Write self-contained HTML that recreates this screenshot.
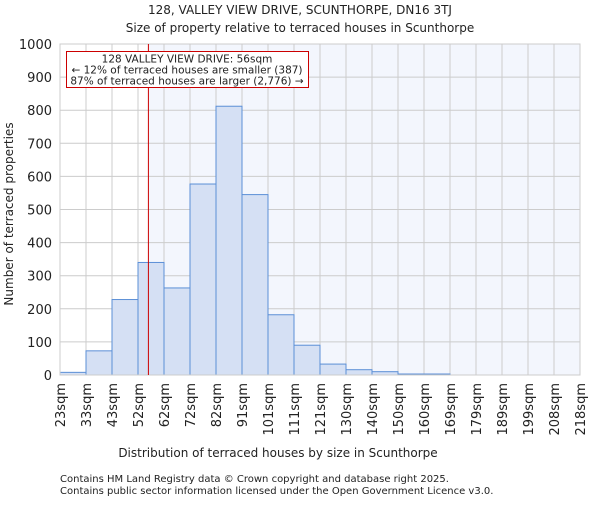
<!DOCTYPE html>
<html><head><meta charset="utf-8"><style>
body{margin:0;background:#fff}
text{font-family:"DejaVu Sans","Liberation Sans",sans-serif;fill:#222}
</style></head><body>
<svg id="chart" width="600" height="500">
<text x="300" y="14" text-anchor="middle" font-size="12">128, VALLEY VIEW DRIVE, SCUNTHORPE, DN16 3TJ</text>
<text x="300" y="32" text-anchor="middle" font-size="12">Size of property relative to terraced houses in Scunthorpe</text>
<g id="plot"></g>
<text x="278" y="457" text-anchor="middle" font-size="12">Distribution of terraced houses by size in Scunthorpe</text>
<text transform="translate(13,214) rotate(-90)" text-anchor="middle" font-size="12">Number of terraced properties</text>
<text x="60" y="482" font-size="10" fill="#444">Contains HM Land Registry data © Crown copyright and database right 2025.</text>
<text x="60" y="494" font-size="10" fill="#444">Contains public sector information licensed under the Open Government Licence v3.0.</text>
</svg>
<script>
const tickLabels=["23sqm","33sqm","43sqm","52sqm","62sqm","72sqm","82sqm","91sqm","101sqm","111sqm","121sqm","130sqm","140sqm","150sqm","160sqm","169sqm","179sqm","189sqm","199sqm","208sqm","218sqm"];
const counts=[8,73,228,340,263,577,812,545,182,90,33,16,10,3,3,0,0,0,0,0];
const yTicks=[0,100,200,300,400,500,600,700,800,900,1000];
const propertyBin=3.4;
const X0=60,X1=580,Y0=375,Y1=44,YMAX=1000;
const nb=counts.length;
const xs=i=>X0+(X1-X0)*i/nb;
const ys=v=>Y0-(Y0-Y1)*v/YMAX;
const NS="http://www.w3.org/2000/svg";
const g=document.getElementById('plot');
function mk(t,a){const e=document.createElementNS(NS,t);for(const k in a)e.setAttribute(k,a[k]);g.appendChild(e);return e;}
const px=xs(propertyBin);
let e=mk('rect',{x:px,y:Y1,width:X1-px,height:Y0-Y1,fill:'#f3f6fd'});


yTicks.forEach(v=>{
 let l=mk('line',{x1:X0,x2:X1,y1:ys(v),y2:ys(v),stroke:'#ccc','stroke-width':1});
 
 
 let t=mk('text',{x:X0-8,y:ys(v)+5,'text-anchor':'end','font-size':13});
 t.textContent=v;
 
 
});
tickLabels.forEach((s,i)=>{
 let l=mk('line',{x1:xs(i),x2:xs(i),y1:Y1,y2:Y0,stroke:'#ccc','stroke-width':1});
 
 
 let t=mk('text',{transform:`translate(${xs(i)+5},${Y0+8}) rotate(-90)`,'text-anchor':'end','font-size':13});
 t.textContent=s;
 
 
});
counts.forEach((c,i)=>{
 if(c<=0)return;
 let r=mk('rect',{x:xs(i),y:ys(c),width:xs(i+1)-xs(i),height:Y0-ys(c),fill:'#d5e0f4',stroke:'#5b8fd6','stroke-width':1});
 
 
});
e=mk('rect',{x:X0,y:Y1,width:X1-X0,height:Y0-Y1,fill:'none',stroke:'#ccc','stroke-width':1});


e=mk('line',{x1:px,x2:px,y1:Y1,y2:Y0,stroke:'#cc0000','stroke-width':1});


e=mk('rect',{x:66.5,y:51.5,width:242,height:36,fill:'#fff',stroke:'#cc0000','stroke-width':1});


["128 VALLEY VIEW DRIVE: 56sqm","← 12% of terraced houses are smaller (387)","87% of terraced houses are larger (2,776) →"].forEach((s,i)=>{
 let t=mk('text',{x:187,y:62.5+i*11,'text-anchor':'middle','font-size':10.5});
 t.textContent=s;
 
 
});
</script>
</body></html>
